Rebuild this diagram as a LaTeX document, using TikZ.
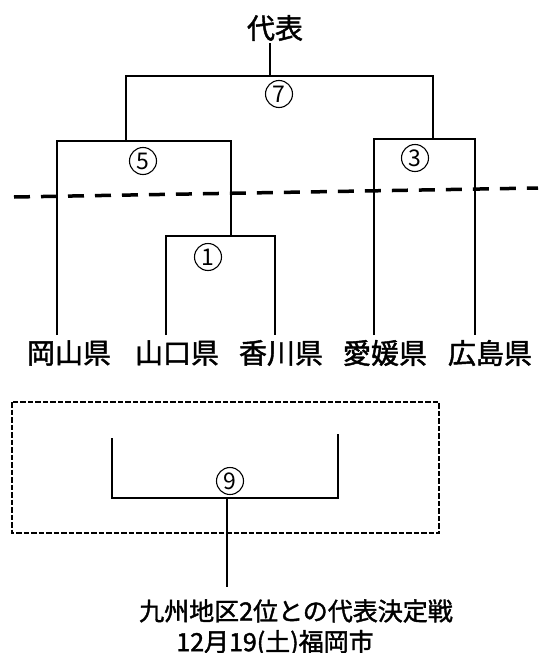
\documentclass[tikz,border=0pt]{standalone}
\usepackage{fontspec}
\newfontfamily\jp[FakeBold=1.6]{Noto Sans CJK JP}
\newfontfamily\jpnum{Noto Sans CJK JP}
\begin{document}
\begin{tikzpicture}[x=1pt,y=-1pt,
  br/.style={line width=1.6pt, line join=miter},
  lab/.style={font=\jp\fontsize{28}{28}\selectfont, inner sep=0pt, anchor=center},
  note/.style={font=\jp\fontsize{25}{25}\selectfont, inner sep=0pt, anchor=center},
  num/.style={circle, draw, line width=1.1pt, minimum size=27pt, inner sep=0pt,
    font=\jpnum\fontsize{23}{23}\selectfont},
  sep/.style={line width=3.5pt, dash pattern=on 16pt off 11pt},
  boxline/.style={line width=2.4pt, dash pattern=on 5.5pt off 2pt}
]
\useasboundingbox (0,0) rectangle (538,653);

% texts
\node[lab] (daihyo) at (275,28) {代表};
\node[lab] (okayama) at (69,353) {岡山県};
\node[lab] (yamaguchi) at (177,353) {山口県};
\node[lab] (kagawa) at (281,353) {香川県};
\node[lab] (ehime) at (385,353) {愛媛県};
\node[lab] (hiroshima) at (490,353) {広島県};
\node[note] (final1) at (296,611) {九州地区2位との代表決定戦};
\node[note] (final2) at (275,643) {12月19(土)福岡市};

% match numbers
\node[num] (c7) at (279,94) {7};
\node[num] (c5) at (143,161) {5};
\node[num] (c3) at (415,158) {3};
\node[num] (c1) at (208,257) {1};
\node[num] (c9) at (230,481) {9};

% bracket points
\coordinate (s7) at (270,43);
\coordinate (j7) at (270,76);
\coordinate (t7l) at (126,76);
\coordinate (t7r) at (433,76);
\coordinate (d7l) at (126,141);
\coordinate (d7r) at (433,139);

\coordinate (oka) at (57,335);
\coordinate (t5l) at (57,141);
\coordinate (t5r) at (231,141);
\coordinate (d5r) at (231,236);

\coordinate (yam) at (166,335);
\coordinate (t1l) at (166,236);
\coordinate (t1r) at (275,236);
\coordinate (kag) at (275,335);

\coordinate (ehi) at (374,335);
\coordinate (t3l) at (374,139);
\coordinate (t3r) at (475,139);
\coordinate (hir) at (475,335);

\coordinate (a9) at (112,438);
\coordinate (b9l) at (112,498);
\coordinate (b9r) at (338,498);
\coordinate (a9r) at (338,434);
\coordinate (j9) at (227,498);
\coordinate (e9) at (227,587);

% brackets
\draw[br] (s7) -- (j7);
\draw[br] (d7l) -- (t7l) -- (t7r) -- (d7r);
\draw[br] (oka) -- (t5l) -- (t5r) -- (d5r);
\draw[br] (yam) -- (t1l) -- (t1r) -- (kag);
\draw[br] (ehi) -- (t3l) -- (t3r) -- (hir);
\draw[br] (a9) -- (b9l) -- (b9r) -- (a9r);
\draw[br] (j9) -- (e9);

% separators
\coordinate (sepL) at (14,197);
\coordinate (sepR) at (538,188);
\draw[sep] (sepL) -- (sepR);
\coordinate (boxA) at (12,402);
\coordinate (boxB) at (439,533);
\draw[boxline] (boxA) rectangle (boxB);
\end{tikzpicture}
\end{document}
